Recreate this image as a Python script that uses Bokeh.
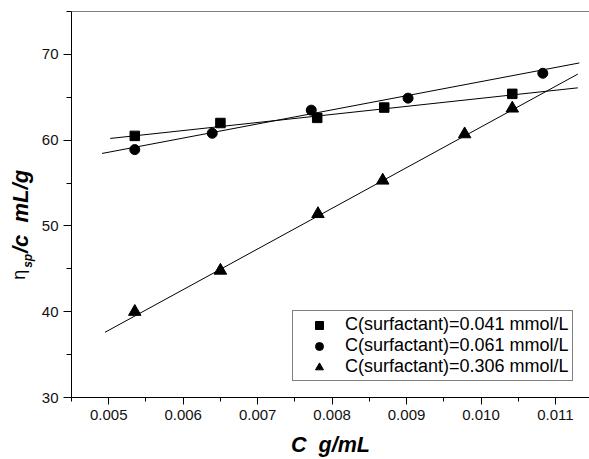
import numpy as np
from bokeh.plotting import figure
from bokeh.layouts import row
from bokeh.models import FixedTicker, PrintfTickFormatter, Range1d, Span
from bokeh.core.properties import value
from bokeh.embed import file_html
from bokeh.resources import INLINE

# ---- data ----
x_041 = [0.00535, 0.00650, 0.00780, 0.00870, 0.01042]
y_041 = [60.5, 62.0, 62.6, 63.8, 65.4]
x_061 = [0.00535, 0.00639, 0.00772, 0.00902, 0.01083]
y_061 = [58.9, 60.8, 63.5, 64.9, 67.8]
x_306 = [0.00535, 0.00650, 0.00781, 0.00868, 0.00978, 0.01042]
y_306 = [40.0, 44.8, 51.4, 55.3, 60.7, 63.7]

fit_041_x = [0.00502, 0.01130]
fit_041_y = [60.2, 66.1]
fit_061_x = [0.00491, 0.01132]
fit_061_y = [58.45, 69.0]
fit_306_x = [0.00495, 0.01130]
fit_306_y = [37.6, 67.7]

labels = ["C(surfactant)=0.041 mmol/L",
          "C(surfactant)=0.061 mmol/L",
          "C(surfactant)=0.306 mmol/L"]

x_ticks = [0.005, 0.006, 0.007, 0.008, 0.009, 0.010, 0.011]
x_minor = [0.0045, 0.0055, 0.0065, 0.0075, 0.0085, 0.0095, 0.0105]
y_ticks = [30, 40, 50, 60, 70]
y_minor = [35, 45, 55, 65, 75]

FONT = "Liberation Sans"
NB = "\u00a0"
W, H = 589, 459
WA = 38          # width of the strip holding the y-axis title
TOP, BOT = 11, 61  # borders of the plot frame

# ---- main plot ----
p = figure(width=W - WA, height=H, output_backend="svg", toolbar_location=None,
           x_range=Range1d(0.0045, 0.011457), y_range=Range1d(30, 75),
           min_border_left=71 - WA, min_border_right=0, min_border_top=TOP,
           min_border_bottom=BOT)
p.outline_line_color = None
p.grid.visible = False
p.background_fill_color = "white"
p.border_fill_color = "white"

for fx, fy in [(fit_041_x, fit_041_y), (fit_061_x, fit_061_y), (fit_306_x, fit_306_y)]:
    p.line(fx, fy, line_color="black", line_width=1)

p.scatter(x_041, y_041, marker="square", size=9.5, color="black", legend_label=labels[0])
p.scatter(x_061, y_061, marker="circle", size=10, color="black", legend_label=labels[1])
p.scatter(x_306, y_306, marker="triangle", size=12.5, color="black", legend_label=labels[2])

p.xaxis.ticker = FixedTicker(ticks=x_ticks, minor_ticks=x_minor)
p.yaxis.ticker = FixedTicker(ticks=y_ticks, minor_ticks=y_minor)
p.xaxis.formatter = PrintfTickFormatter(format="%.3f")
for ax in (p.xaxis, p.yaxis):
    ax.axis_line_color = "black"
    ax.major_tick_line_color = "black"
    ax.minor_tick_line_color = "black"
    ax.major_tick_in = 0
    ax.minor_tick_in = 0
    ax.major_label_text_font = FONT
    ax.major_label_text_font_size = "15px"
    ax.major_label_text_color = "#111111"
p.xaxis.major_tick_out = 7
p.xaxis.minor_tick_out = 4
p.yaxis.major_tick_out = 8
p.yaxis.minor_tick_out = 5
p.xaxis.major_label_standoff = 5
p.yaxis.major_label_standoff = 5

p.xaxis.axis_label = "C" + NB + NB + "g/mL"
p.xaxis.axis_label_text_font = FONT
p.xaxis.axis_label_text_font_size = "21.5px"
p.xaxis.axis_label_text_font_style = "bold italic"
p.xaxis.axis_label_text_color = "black"
p.xaxis.axis_label_standoff = 10

# top frame line
p.add_layout(Span(location=75, dimension="width", line_color="black", line_width=1))

# legend
lg = p.legend[0]
lg.location = (221, 16)
lg.margin = 0
lg.padding = 3
lg.spacing = 0
lg.glyph_width = 46
lg.glyph_height = 20
lg.label_height = 20
lg.label_width = 200
lg.label_standoff = 3
lg.label_text_font = FONT
lg.label_text_font_size = "18px"
lg.label_text_color = "black"
lg.border_line_color = "black"
lg.border_line_width = 1
lg.background_fill_alpha = 1.0

# ---- strip with the y-axis title (its frame is aligned with the plot frame;
#      the range maps data units to page pixels, y measured downward) ----
t = figure(width=WA, height=H, output_backend="svg", toolbar_location=None,
           x_range=Range1d(0, WA), y_range=Range1d(H - BOT, TOP),
           x_axis_location=None, y_axis_location=None,
           min_border=0, min_border_left=0, min_border_right=0,
           min_border_top=TOP, min_border_bottom=BOT)
t.outline_line_color = None
t.grid.visible = False
t.border_fill_color = "white"
t.background_fill_color = "white"

t.text(x=[18.5], y=[275], text=["η"], angle=np.pi / 2,
       text_font=value(FONT), text_font_size="18px", text_color="black",
       text_align="center", text_baseline="middle")
t.text(x=[27.5], y=[261], text=["sp"], angle=np.pi / 2,
       text_font=value(FONT), text_font_size="12px", text_font_style="bold italic",
       text_color="black", text_align="center", text_baseline="middle")
t.text(x=[19.5], y=[211.5], text=["/c" + NB + NB + "mL/g"], angle=np.pi / 2,
       text_font=value(FONT), text_font_size="22px", text_font_style="bold italic",
       text_color="black", text_align="center", text_baseline="middle")

layout = row(t, p, spacing=0)
open("out.html", "w").write(file_html(layout, INLINE))
